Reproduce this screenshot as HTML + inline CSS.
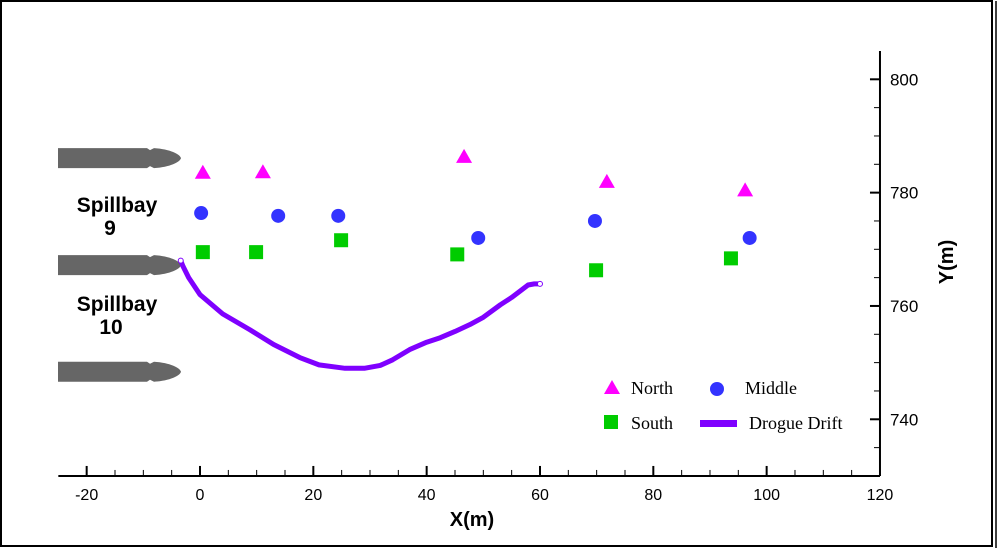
<!DOCTYPE html>
<html><head><meta charset="utf-8"><style>
html,body{margin:0;padding:0;background:#fff;}
svg{display:block;}
</style></head><body>
<svg id="chart" width="1000" height="549" viewBox="0 0 1000 549" xmlns="http://www.w3.org/2000/svg">
<rect x="1" y="1" width="991" height="545" fill="none" stroke="#000" stroke-width="2"/>
<line x1="996" y1="1" x2="996" y2="548" stroke="#000" stroke-width="1.5"/>
<g id="piers"></g>
<g id="axes"></g>
<g id="marks"></g>
<g font-family="Liberation Sans, sans-serif" font-weight="bold" font-size="21" text-anchor="middle">
<text x="117" y="212">Spillbay</text>
<text x="110" y="235">9</text>
<text x="117" y="311">Spillbay</text>
<text x="111" y="334">10</text>
<text x="472" y="526" font-size="20">X(m)</text>
<text transform="translate(953,262) rotate(-90)" font-size="20">Y(m)</text>
</g>
<g font-family="Liberation Serif, serif" font-size="18">
<polygon points="612,380 620,394 604,394" fill="#ff00ff"/>
<text x="631" y="394">North</text>
<circle cx="717" cy="389" r="7" fill="#3333ff"/>
<text x="745" y="394">Middle</text>
<rect x="604" y="415" width="14" height="14" fill="#00cc00"/>
<text x="631" y="429">South</text>
<rect x="700" y="420" width="37" height="7" fill="#7f00ff"/>
<text x="749" y="429">Drogue Drift</text>
</g>
</svg>
<script>
const xTicks=[-20,0,20,40,60,80,100,120];
const yTicks=[740,760,780,800];
const northX=[0.5,11.1,46.6,71.8,96.2];
const northY=[783.5,783.6,786.3,781.9,780.4];
const middleX=[0.2,13.8,24.4,49.1,69.7,97];
const middleY=[776.4,775.9,775.9,772,775,772];
const southX=[0.5,9.9,24.9,45.4,69.9,93.7];
const southY=[769.5,769.5,771.6,769.1,766.3,768.4];
const drogueX=[-3.4,-3,-2,0,4,8.8,13,17.6,21,25.6,29,31.8,34,37,40,42.4,45,47.6,50,53,55,57.9,59,60];
const drogueY=[768,767,765,762,758.6,755.8,753.2,750.9,749.6,749,749,749.5,750.5,752.3,753.6,754.4,755.5,756.7,758,760.2,761.5,763.7,763.9,763.9];
const pierY=[786.1,767.2,748.4];

const SC=113.33/20;
const sx=v=>200+v*SC;
const sy=v=>79.3+(800-v)*SC;
const NS='http://www.w3.org/2000/svg';
function mk(tag,attrs,parent){const e=document.createElementNS(NS,tag);for(const k in attrs)e.setAttribute(k,attrs[k]);parent.appendChild(e);return e;}
const axes=document.getElementById('axes'),marks=document.getElementById('marks'),piers=document.getElementById('piers');
const x0=sx(-25),x1=sx(120),yb=sy(730),yt=sy(805);
let l=mk('line',{x1:x0,y1:yb,x2:x1,y2:yb,stroke:'#000','stroke-width':2},axes);


l=mk('line',{x1:x1,y1:yb,x2:x1,y2:yt,stroke:'#000','stroke-width':2},axes);


for(let v=-20;v<=115;v+=5){const maj=xTicks.includes(v);mk('line',{x1:sx(v),y1:yb,x2:sx(v),y2:yb-(maj?10:6),stroke:'#000','stroke-width':maj?2:1},axes);}
for(let v=735;v<=800;v+=5){const maj=yTicks.includes(v);mk('line',{x1:x1,y1:sy(v),x2:x1-(maj?10:6),y2:sy(v),stroke:'#000','stroke-width':maj?2:1},axes);}
xTicks.forEach(v=>{const t=mk('text',{x:sx(v),y:yb+24,'font-family':'Liberation Sans, sans-serif','font-size':16,'text-anchor':'middle'},axes);t.textContent=v;

});
yTicks.forEach(v=>{const t=mk('text',{x:x1+10,y:sy(v)+6,'font-family':'Liberation Sans, sans-serif','font-size':17},axes);t.textContent=v;

});
pierY.forEach(v=>{const c=sy(v);const p=mk('path',{d:`M58,${c-10}H147L150,${c-8}L154,${c-10}C170,${c-9} 180,${c-4} 181,${c}C180,${c+4} 170,${c+9} 154,${c+10}L150,${c+8}L147,${c+10}H58Z`,fill:'#666'},piers);

});
const pts=drogueX.map((x,i)=>sx(x)+','+sy(drogueY[i])).join(' ');
const pl=mk('polyline',{points:pts,fill:'none',stroke:'#7f00ff','stroke-width':5,'stroke-linejoin':'round','stroke-linecap':'round'},marks);


[[drogueX[0],drogueY[0]],[drogueX[drogueX.length-1],drogueY[drogueY.length-1]]].forEach(([x,y])=>{const c=mk('circle',{cx:sx(x),cy:sy(y),r:2.5,fill:'#fff',stroke:'#7f00ff'},marks);

});
northX.forEach((x,i)=>{const cx=sx(x),cy=sy(northY[i]);const p=mk('polygon',{points:`${cx},${cy-8} ${cx+8},${cy+6} ${cx-8},${cy+6}`,fill:'#ff00ff'},marks);

});
middleX.forEach((x,i)=>{const c=mk('circle',{cx:sx(x),cy:sy(middleY[i]),r:7,fill:'#3333ff'},marks);

});
southX.forEach((x,i)=>{const r=mk('rect',{x:sx(x)-7,y:sy(southY[i])-7,width:14,height:14,fill:'#00cc00'},marks);

});
</script>
</body></html>
